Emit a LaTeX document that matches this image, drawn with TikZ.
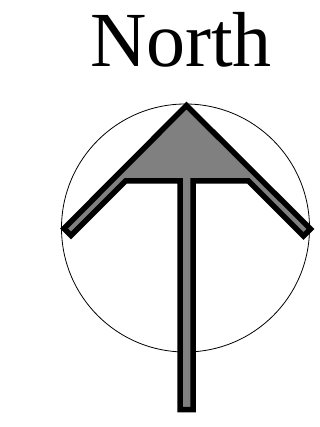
\documentclass[tikz,border=0pt]{standalone}
\usepackage{fontspec}
\setmainfont{Liberation Serif}

\begin{document}
\begin{tikzpicture}[x=1pt, y=-1pt,
    arrowbody/.style={fill=gray, draw=black, line width=5.5pt, miter limit=10},
    ring/.style={draw=black, line width=0.8pt}]
      \useasboundingbox (0,0) rectangle (320,427);
      \draw[ring] (185.5,228) circle (124);
      \draw[arrowbody] (186.5,105.5) -- (310.5,229) -- (303.5,236) -- (248.5,181)
        -- (193,181) -- (193,409.5) -- (180,409.5) -- (180,181) -- (125.5,181)
        -- (71,235.5) -- (64,228.5) -- cycle;
      \node[font=\fontsize{78}{78}\selectfont, anchor=base, inner sep=0pt] (title) at (181,67) {North};
    \end{tikzpicture}
\end{document}
